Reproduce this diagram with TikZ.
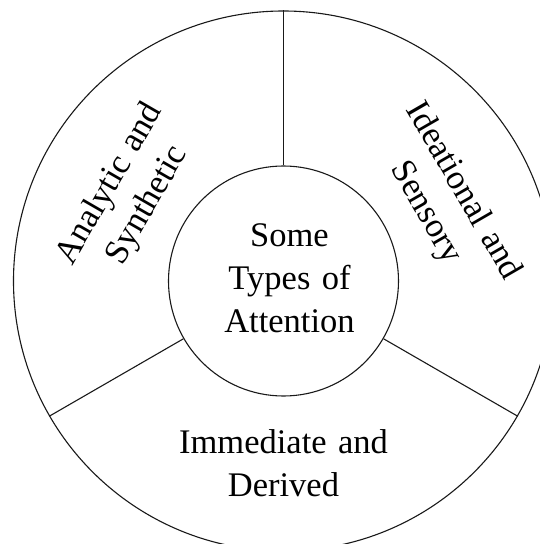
\documentclass[tikz,border=0pt]{standalone}
\usepackage{fontspec}
\setmainfont{Liberation Serif}
\newcommand{\bigserif}{\fontsize{34.5}{43}\selectfont\spaceskip=0.33em plus 0.1em\relax}
\begin{document}
\begin{tikzpicture}[x=1pt,y=1pt,
  ring/.style={draw=black!90,line width=1.1pt},
  label/.style={align=center,inner sep=0pt,font=\bigserif}]
\useasboundingbox (-283.5,-263) rectangle (255.5,281);
\node[ring,circle,minimum size=540pt,inner sep=0pt] (outer) at (0,0) {};
\node[ring,circle,minimum size=230pt,inner sep=0pt] (inner) at (0,0) {};
\draw[ring] (inner.90) -- (outer.90);
\draw[ring] (inner.210) -- (outer.210);
\draw[ring] (inner.330) -- (outer.330);
\node[label] (center) at (6,3) {Some\\Types of\\Attention};
\node[label] (bottom) at (0,-182) {Immediate and\\Derived};
\node[label,rotate=60] (left) at (-154.5,86) {Analytic and\\Synthetic};
\node[label,rotate=-60] (right) at (160.5,79) {Ideational and\\Sensory};
\end{tikzpicture}
\end{document}
